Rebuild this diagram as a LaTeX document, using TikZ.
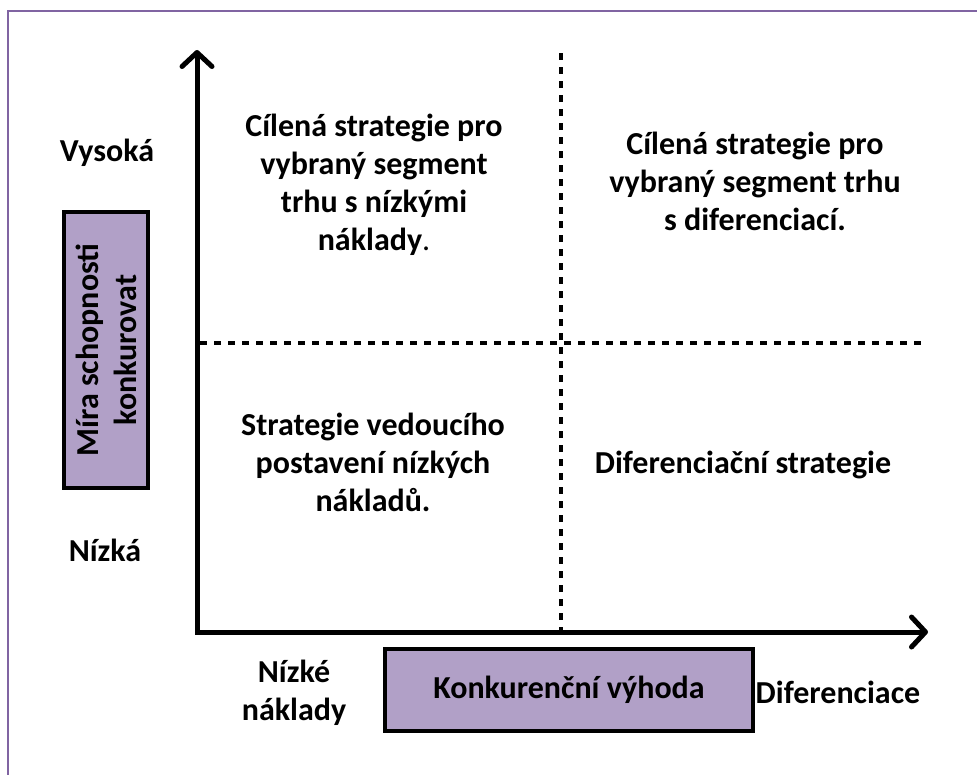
\documentclass[tikz,border=0pt]{standalone}
\usepackage{fontspec}
\setmainfont{Carlito}
\usetikzlibrary{arrows.meta}
\definecolor{framepurple}{HTML}{8064A2}
\definecolor{boxpurple}{HTML}{B1A0C7}
\tikzset{
  lbl/.style={font=\fontsize{32}{38}\selectfont\bfseries, align=center, inner sep=0pt},
  axis/.style={line width=5pt, line join=miter, {Straight Barb[length=14pt,width=30pt,line cap=round,line join=round]}-{Straight Barb[length=14pt,width=30pt,line cap=round,line join=round]}},
  divider/.style={line width=3.5pt, dash pattern=on 7pt off 7pt},
  purplebox/.style={draw=black, line width=4pt, fill=boxpurple}
}
\begin{document}
\begin{tikzpicture}[x=1pt,y=-1pt]
\useasboundingbox (0,0) rectangle (977,774);
\fill[white] (0,0) rectangle (977,774);
\draw[framepurple, line width=2.5pt] (8,780) -- (8,11) -- (985,11);

% coordinates of the axes
\coordinate (ytop) at (197,50);
\coordinate (origin) at (197,632);
\coordinate (xend) at (928,632);
\coordinate (hl) at (200,343);
\coordinate (hr) at (922,343);
\coordinate (vt) at (561,53);
\coordinate (vb) at (561,630);

\draw[divider] (hl) -- (hr);
\draw[divider] (vt) -- (vb);
\draw[axis] (ytop) -- (origin) -- (xend);

% boxes
\node[purplebox, minimum width=84pt, minimum height=276pt, inner sep=0pt] (ybox) at (106,350) {};
\node[lbl, rotate=90] (ylabel) at (ybox.center) {Míra schopnosti\\konkurovat};
\node[purplebox, minimum width=368pt, minimum height=82pt, inner sep=0pt] (xbox) at (569,690) {};
\node[lbl] (xlabel) at (xbox.center) {Konkurenční výhoda};

% axis labels
\node[lbl] (high) at (107,153) {Vysoká};
\node[lbl] (low) at (105,550) {Nízká};
\node[lbl] (lowcost) at (294,693) {Nízké\\náklady};
\node[lbl] (diff) at (838,692) {Diferenciace};

% quadrant texts
\node[lbl] (q1) at (374,185) {Cílená strategie pro\\vybraný segment\\trhu s nízkými\\náklady\textmd{.}};
\node[lbl] (q2) at (755,181) {Cílená strategie pro\\vybraný segment trhu\\s diferenciací.};
\node[lbl] (q3) at (373,462) {Strategie vedoucího\\postavení nízkých\\nákladů.};
\node[lbl] (q4) at (743,465) {Diferenciační strategie};
\end{tikzpicture}
\end{document}
